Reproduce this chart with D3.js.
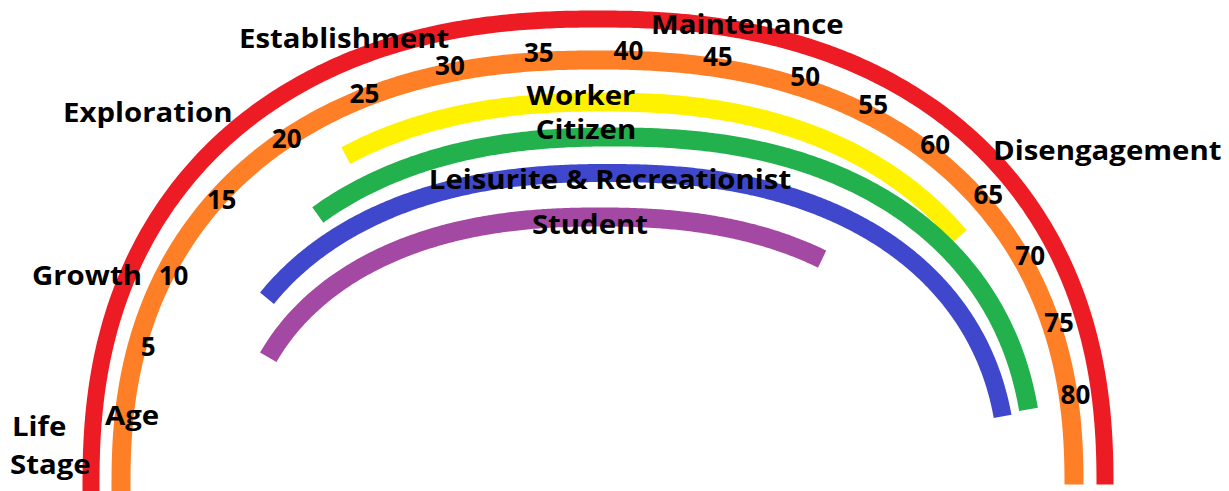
<!DOCTYPE html>
<html>
<head>
<meta charset="utf-8">
<script src="https://cdn.jsdelivr.net/npm/d3@7"></script>
<style>
  body { margin: 0; background: #fff; }
  svg { display: block; }
  text { font-family: "Open Sans", sans-serif; font-weight: 700; fill: #000; }
</style>
</head>
<body>
<svg id="chart" width="1229" height="491"></svg>
<script>
// DATA
var ageTicks = [5, 10, 15, 20, 25, 30, 35, 40, 45, 50, 55, 60, 65, 70, 75, 80];
var stageNames = ["Growth", "Exploration", "Establishment", "Maintenance", "Disengagement"];
var roleNames = ["Worker", "Citizen", "Leisurite & Recreationist", "Student"];
var roleStart = [22, 18, 11.4, 7.2];   // age where each role band starts
var roleEnd = [66.2, 80.4, 80.6, 60];  // age where each role band stops
var lifeSpan = [-6, 86.1];             // outer rings (life stage, age) run the whole span

// LAYOUT
var W = 1229, H = 491;
var cy = 485, n = 2.3;          // rainbow is a squashed superellipse
var wordScale = 1.13;           // words in the picture are stretched sideways

var stageRing = {cx: 598, a: 507, b: 466, color: "#ED1C24", width: 17};
var ageRing = {cx: 597.5, a: 476.5, b: 425, color: "#FF7F27", width: 19};
var roleRings = [
  {cx: 602, a: 437, b: 383, color: "#FFF200", width: 19},
  {cx: 613, a: 421, b: 348, color: "#22B14C", width: 19},
  {cx: 608, a: 400, b: 312, color: "#3F48CC", width: 18},
  {cx: 600, a: 362, b: 268, color: "#A349A4", width: 19}
];
var tickCurve = {cx: 607, a: 474, b: 435};  // where age numbers sit

var stageLabelPos = [[32, 285], [63, 122], [239, 48], [651, 34], [993, 160]];
var roleLabelPos = [[581, 105], [586, 139], [610, 189], [590, 234]];

var svg = d3.select('#chart');

// point on a ring for parameter t
function ringPoint(g, t) {
  var c = Math.cos(t), s = Math.sin(t);
  return [g.cx - g.a * Math.sign(c) * Math.pow(Math.abs(c), 2 / n),
          cy - g.b * Math.sign(s) * Math.pow(Math.abs(s), 2 / n)];
}

// arc length table of the tick curve, zero at its left foot
var table = d3.range(-20, 200.01, 0.05).map((deg) => ringPoint(tickCurve, deg * Math.PI / 180));
var cum = [0];
for (var i = 1; i < table.length; i++) {
  cum.push(cum[i - 1] + Math.hypot(table[i][0] - table[i - 1][0], table[i][1] - table[i - 1][1]));
}
var zeroAt = cum[Math.round(20 / 0.05)];
cum = cum.map((c) => c - zeroAt);
var bisect = d3.bisector((d) => d).left;
function curveAt(s) {
  var j = Math.max(1, Math.min(cum.length - 1, bisect(cum, s)));
  var f = (s - cum[j - 1]) / (cum[j] - cum[j - 1]);
  return [table[j - 1][0] + f * (table[j][0] - table[j - 1][0]),
          table[j - 1][1] + f * (table[j][1] - table[j - 1][1])];
}

// age -> distance along the tick curve
var age = d3.scaleLinear().domain([5, 10, 35, 50, 80]).range([140, 215, 665, 934, 1376]);

// point where the ray from a ring's centre toward an age meets that ring
function ringAtAge(g, yrs) {
  var p = curveAt(age(yrs));
  var dx = p[0] - g.cx, dy = p[1] - cy;
  var r = Math.pow(Math.pow(Math.abs(dx / g.a), n) + Math.pow(Math.abs(dy / g.b), n), -1 / n);
  return [g.cx + r * dx, cy + r * dy];
}

var line = d3.line();
function band(g, from, to) {
  var pts = d3.range(from, to, 0.2).concat([to]).map((y) => ringAtAge(g, y));
  svg.append('path')
    .attr('d', line(pts))
    .attr('fill', 'none')
    .attr('stroke', g.color)
    .attr('stroke-width', g.width)
    .attr('stroke-linecap', 'butt');
}

// rings
band(stageRing, lifeSpan[0], lifeSpan[1]);
band(ageRing, lifeSpan[0], lifeSpan[1]);
roleRings.forEach((g, i) => band(g, roleStart[i], roleEnd[i]));

// age numbers
svg.append('g').selectAll('text').data(ageTicks).enter().append('text')
  .attr('x', (d) => curveAt(age(d))[0])
  .attr('y', (d) => curveAt(age(d))[1])
  .attr('dy', '0.36em')
  .attr('text-anchor', 'middle')
  .style('font-size', '26px')
  .text((d) => d);

// words
function word(txt, x, y, anchor) {
  svg.append('text')
    .attr('transform', `translate(${x},${y}) scale(${wordScale},1)`)
    .attr('text-anchor', anchor)
    .style('font-size', '26px')
    .text(txt);
}
stageNames.forEach((d, i) => word(d, stageLabelPos[i][0], stageLabelPos[i][1], 'start'));
roleNames.forEach((d, i) => word(d, roleLabelPos[i][0], roleLabelPos[i][1], 'middle'));
word('Life', 12, 436, 'start');
word('Stage', 10, 474, 'start');
word('Age', 105, 425, 'start');
</script>
</body>
</html>
